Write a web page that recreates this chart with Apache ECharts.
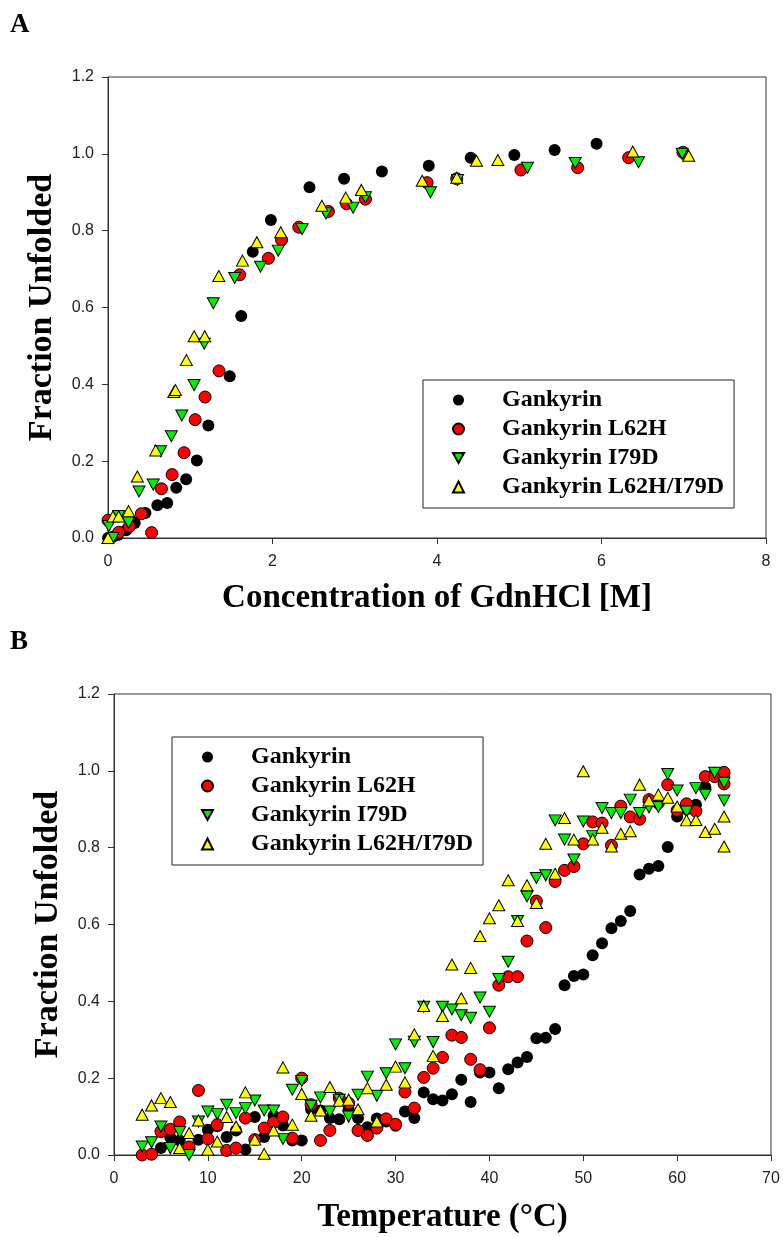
<!DOCTYPE html>
<html>
<head>
<meta charset="utf-8">
<script src="https://cdn.jsdelivr.net/npm/echarts@6/dist/echarts.min.js"></script>
<style>
  html, body { margin: 0; padding: 0; background: #fff; }
  #chart { width: 783px; height: 1237px; }
</style>
</head>
<body>
<div id="chart"></div>
<script>
// panel A: GdnHCl denaturation
const gankGdnX = [0, 0.06, 0.12, 0.22, 0.325, 0.455, 0.60, 0.72, 0.83, 0.95, 1.08, 1.22, 1.48, 1.62, 1.76, 1.98, 2.45, 2.87, 3.33, 3.90, 4.41, 4.94, 5.43, 5.94]
const gankGdnY = [0.0, 0.003, 0.008, 0.02, 0.039, 0.065, 0.085, 0.091, 0.131, 0.153, 0.202, 0.293, 0.421, 0.578, 0.745, 0.828, 0.913, 0.935, 0.954, 0.969, 0.99, 0.997, 1.01, 1.026]
const l62hGdnX = [0, 0.13, 0.26, 0.405, 0.53, 0.65, 0.78, 0.925, 1.06, 1.18, 1.35, 1.60, 1.95, 2.11, 2.32, 2.68, 2.90, 3.13, 3.88, 4.24, 5.02, 5.71, 6.33, 6.99]
const l62hGdnY = [0.046, 0.015, 0.030, 0.063, 0.014, 0.128, 0.165, 0.222, 0.308, 0.367, 0.435, 0.685, 0.728, 0.776, 0.809, 0.850, 0.870, 0.882, 0.925, 0.935, 0.958, 0.964, 0.990, 1.004]
const i79dGdnX = [0.06, 0.01, 0.13, 0.25, 0.377, 0.55, 0.64, 0.77, 0.897, 1.047, 1.17, 1.28, 1.54, 1.854, 2.07, 2.36, 2.65, 2.98, 3.13, 3.92, 4.25, 5.10, 5.68, 6.45, 6.98]
const i79dGdnY = [0.0, 0.031, 0.057, 0.040, 0.121, 0.139, 0.226, 0.265, 0.319, 0.398, 0.506, 0.611, 0.677, 0.706, 0.748, 0.804, 0.845, 0.860, 0.887, 0.900, 0.932, 0.964, 0.976, 0.978, 1.000]
const dblGdnX = [0, 0.06, 0.13, 0.25, 0.357, 0.58, 0.80, 0.82, 0.953, 1.047, 1.176, 1.347, 1.635, 1.81, 2.10, 2.60, 2.89, 3.08, 3.82, 4.24, 4.48, 4.74, 6.38, 7.06]
const dblGdnY = [0.0, 0.056, 0.056, 0.070, 0.160, 0.228, 0.380, 0.385, 0.463, 0.525, 0.525, 0.682, 0.722, 0.770, 0.796, 0.865, 0.886, 0.906, 0.930, 0.938, 0.982, 0.984, 1.006, 0.995]

// panel B: thermal denaturation
const gankTempX = [5, 6, 7, 9, 10, 11, 12, 13, 14, 15, 16, 17, 18, 19, 20, 21, 22, 23, 24, 25, 26, 27, 28, 29, 30, 31, 32, 33, 34, 35, 36, 37, 38, 39, 40, 41, 42, 43, 44, 45, 46, 47, 48, 49, 50, 51, 52, 53, 54, 55, 56, 57, 58, 59, 60, 61, 62, 63, 64, 65]
const gankTempY = [0.018, 0.046, 0.038, 0.040, 0.066, 0.075, 0.047, 0.064, 0.014, 0.099, 0.047, 0.102, 0.077, 0.038, 0.038, 0.119, 0.116, 0.096, 0.093, 0.119, 0.096, 0.072, 0.095, 0.087, 0.076, 0.113, 0.096, 0.163, 0.145, 0.142, 0.158, 0.196, 0.138, 0.215, 0.215, 0.174, 0.223, 0.241, 0.255, 0.304, 0.305, 0.328, 0.442, 0.466, 0.470, 0.520, 0.551, 0.590, 0.609, 0.635, 0.730, 0.745, 0.752, 0.802, 0.881, 0.90, 0.912, 0.957, 0.995, 0.99]
const l62hTempX = [3, 4, 5, 6, 7, 8, 9, 10, 11, 12, 13, 14, 15, 16, 17, 18, 19, 20, 21, 22, 23, 24, 25, 26, 27, 28, 29, 30, 31, 32, 33, 34, 35, 36, 37, 38, 39, 40, 41, 42, 43, 44, 45, 46, 47, 48, 49, 50, 51, 52, 53, 54, 55, 56, 57, 58, 59, 60, 61, 62, 63, 64, 65, 65]
const l62hTempY = [0.0, 0.002, 0.061, 0.067, 0.086, 0.021, 0.168, 0.042, 0.079, 0.012, 0.018, 0.096, 0.040, 0.070, 0.085, 0.099, 0.044, 0.200, 0.131, 0.038, 0.064, 0.148, 0.135, 0.064, 0.051, 0.070, 0.094, 0.080, 0.164, 0.122, 0.202, 0.226, 0.254, 0.312, 0.306, 0.249, 0.222, 0.331, 0.442, 0.464, 0.464, 0.557, 0.661, 0.592, 0.712, 0.741, 0.751, 0.810, 0.867, 0.864, 0.806, 0.908, 0.880, 0.874, 0.925, 0.916, 0.964, 0.897, 0.914, 0.895, 0.985, 0.985, 0.996, 0.966]
const i79dTempX = [3, 4, 5, 6, 7, 8, 9, 10, 11, 12, 13, 14, 15, 16, 17, 18, 19, 20, 21, 22, 23, 24, 25, 26, 27, 28, 29, 30, 31, 32, 33, 34, 35, 36, 37, 38, 39, 40, 41, 42, 43, 44, 45, 46, 47, 48, 49, 50, 51, 52, 53, 54, 55, 56, 57, 58, 59, 60, 61, 62, 63, 64, 65, 65]
const i79dTempY = [0.022, 0.033, 0.074, 0.018, 0.060, 0.0, 0.087, 0.113, 0.107, 0.131, 0.109, 0.122, 0.142, 0.116, 0.116, 0.042, 0.170, 0.193, 0.128, 0.150, 0.113, 0.144, 0.100, 0.157, 0.204, 0.154, 0.213, 0.288, 0.226, 0.295, 0.386, 0.294, 0.386, 0.379, 0.364, 0.357, 0.410, 0.373, 0.458, 0.503, 0.609, 0.673, 0.721, 0.728, 0.871, 0.821, 0.769, 0.868, 0.83, 0.903, 0.890, 0.890, 0.925, 0.890, 0.905, 0.906, 0.992, 0.949, 0.894, 0.955, 0.938, 0.995, 0.969, 0.923]
const dblTempX = [3, 4, 5, 6, 7, 8, 9, 10, 11, 12, 13, 14, 15, 16, 17, 18, 19, 20, 21, 22, 23, 24, 25, 26, 27, 28, 29, 30, 31, 32, 33, 34, 35, 36, 37, 38, 39, 40, 41, 42, 43, 44, 45, 46, 47, 48, 49, 50, 51, 52, 53, 54, 55, 56, 57, 58, 59, 60, 61, 62, 63, 64, 65, 65]
const dblTempY = [0.105, 0.129, 0.148, 0.138, 0.018, 0.057, 0.090, 0.014, 0.035, 0.099, 0.074, 0.163, 0.040, 0.003, 0.064, 0.228, 0.079, 0.159, 0.102, 0.116, 0.177, 0.141, 0.144, 0.119, 0.174, 0.087, 0.183, 0.230, 0.189, 0.314, 0.388, 0.258, 0.362, 0.496, 0.408, 0.487, 0.570, 0.616, 0.650, 0.715, 0.609, 0.702, 0.656, 0.810, 0.732, 0.877, 0.821, 0.999, 0.821, 0.852, 0.803, 0.836, 0.843, 0.964, 0.923, 0.938, 0.930, 0.907, 0.871, 0.872, 0.841, 0.849, 0.881, 0.803]

const names = ['Gankyrin', 'Gankyrin L62H', 'Gankyrin I79D', 'Gankyrin L62H/I79D']
const yTicks = ['0.0', '0.2', '0.4', '0.6', '0.8', '1.0', '1.2']

const serif = 'Liberation Serif'
const sans = 'Liberation Sans'

function pairs(xs, ys) {
    return xs.map((x, i) => [x, ys[i]])
}

const marks = [
    {symbol: 'circle', color: '#000000', border: 0, size: 12},
    {symbol: 'circle', color: '#ff0000', border: 1, size: 12},
    {symbol: 'path://M0,0 L10,0 L5,9 Z', color: '#00ee00', border: 1, size: [12, 11]},
    {symbol: 'triangle', color: '#ffff00', border: 1, size: [12, 11]}
]

function scatter(i, grid, data) {
    let m = marks[i]
    return {
        type: 'scatter',
        name: names[i],
        xAxisIndex: grid,
        yAxisIndex: grid,
        data: data,
        symbol: m.symbol,
        symbolSize: m.size,
        itemStyle: {color: m.color, borderColor: '#000', borderWidth: m.border, opacity: 1},
        emphasis: {disabled: true},
        animation: false
    }
}

function xAxis(grid, min, max, interval, name, gap) {
    return {
        type: 'value', gridIndex: grid, min: min, max: max, interval: interval,
        name: name, nameLocation: 'middle', nameGap: gap,
        nameTextStyle: {fontFamily: serif, fontWeight: 'bold', fontSize: 33, color: '#000'},
        axisLine: {lineStyle: {color: '#333', width: 1}},
        axisTick: {length: 6, lineStyle: {color: '#333'}},
        axisLabel: {fontFamily: sans, fontSize: 16, color: '#222', margin: 16},
        splitLine: {show: false}
    }
}

function yAxis(grid) {
    return {
        type: 'value', gridIndex: grid, min: 0, max: 1.2, interval: 0.2,
        name: 'Fraction Unfolded', nameLocation: 'middle', nameGap: 49,
        nameTextStyle: {fontFamily: serif, fontWeight: 'bold', fontSize: 34, color: '#000'},
        axisLine: {lineStyle: {color: '#333', width: 1}},
        axisTick: {length: 6, lineStyle: {color: '#333'}},
        axisLabel: {fontFamily: sans, fontSize: 16, color: '#222', margin: 14,
            formatter: v => yTicks[Math.round(v / 0.2)]},
        splitLine: {show: false}
    }
}

function legend(left, top) {
    return {
        data: names,
        orient: 'vertical',
        left: left, top: top,
        itemWidth: 11, itemHeight: 11, itemGap: 5,
        padding: [8, 10, 9, 29],
        borderColor: '#222', borderWidth: 1, backgroundColor: '#fff',
        selectedMode: false,
        textStyle: {fontFamily: serif, fontWeight: 'bold', fontSize: 24, color: '#000', padding: [0, 0, 0, 33]}
    }
}

let chart = echarts.init(document.getElementById('chart'), null, {renderer: 'canvas'})
chart.setOption({
    backgroundColor: '#fff',
    animation: false,
    title: [
        {text: 'A', left: 5, top: 7, textStyle: {fontFamily: serif, fontWeight: 'bold', fontSize: 27, color: '#000'}},
        {text: 'B', left: 5, top: 624, textStyle: {fontFamily: serif, fontWeight: 'bold', fontSize: 27, color: '#000'}}
    ],
    grid: [
        {left: 108, top: 77, width: 658, height: 461, show: true, borderColor: '#333', borderWidth: 1},
        {left: 114, top: 694, width: 657, height: 461, show: true, borderColor: '#333', borderWidth: 1}
    ],
    xAxis: [
        xAxis(0, 0, 8, 2, 'Concentration of GdnHCl [M]', 44),
        xAxis(1, 0, 70, 10, 'Temperature (°C)', 46)
    ],
    yAxis: [yAxis(0), yAxis(1)],
    legend: [legend(423, 380), legend(172, 737)],
    series: [
        scatter(0, 0, pairs(gankGdnX, gankGdnY)),
        scatter(1, 0, pairs(l62hGdnX, l62hGdnY)),
        scatter(2, 0, pairs(i79dGdnX, i79dGdnY)),
        scatter(3, 0, pairs(dblGdnX, dblGdnY)),
        scatter(0, 1, pairs(gankTempX, gankTempY)),
        scatter(1, 1, pairs(l62hTempX, l62hTempY)),
        scatter(2, 1, pairs(i79dTempX, i79dTempY)),
        scatter(3, 1, pairs(dblTempX, dblTempY))
    ]
})
</script>
</body>
</html>
